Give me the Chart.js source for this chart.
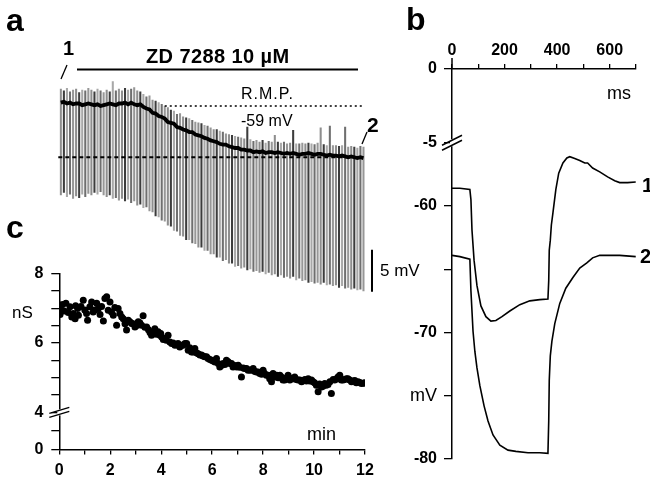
<!DOCTYPE html>
<html>
<head>
<meta charset="utf-8">
<script src="https://cdn.jsdelivr.net/npm/chart.js@4/dist/chart.umd.min.js"></script>
<style>
  body { margin: 0; background: #fff; }
  #fig { position: relative; width: 650px; height: 481px; overflow: hidden; background: #fff;
         font-family: "Liberation Sans", Arial, sans-serif; color: #000; }
  canvas { position: absolute; }
  .t { position: absolute; line-height: 1; white-space: nowrap; }
  .big { font-size: 32px; font-weight: bold; }
  svg { position: absolute; left: 0; top: 0; }
</style>
</head>
<body>
<div id="fig">
  <canvas id="traceA" width="390" height="330" style="left:0;top:0"></canvas>
  <canvas id="condC" width="385" height="231" style="left:0;top:250px"></canvas>
  <canvas id="stepB" width="255" height="461" style="left:395px;top:20px"></canvas>

  <div class="t big" style="left:6px;top:4px">a</div>
  <div class="t big" style="left:406px;top:3px">b</div>
  <div class="t big" style="left:6px;top:211px">c</div>

  <div class="t" style="left:63px;top:38px;font-size:20px;font-weight:bold">1</div>
  <div class="t" style="left:146px;top:46px;font-size:20px;font-weight:bold;letter-spacing:0.4px">ZD 7288 10 µM</div>
  <div class="t" style="left:241px;top:86px;font-size:16px;letter-spacing:1px">R.M.P.</div>
  <div class="t" style="left:241px;top:113px;font-size:16px">-59 mV</div>
  <div class="t" style="left:367px;top:114px;font-size:21px;font-weight:bold">2</div>
  <div class="t" style="left:380px;top:262px;font-size:17px">5 mV</div>

  <div class="t" style="left:607px;top:84px;font-size:18px">ms</div>
  <div class="t" style="left:642px;top:175px;font-size:20px;font-weight:bold">1</div>
  <div class="t" style="left:640px;top:246px;font-size:20px;font-weight:bold">2</div>

  <div class="t" style="left:12px;top:304px;font-size:17px">nS</div>
  <div class="t" style="left:307px;top:425px;font-size:18px">min</div>

  <svg width="650" height="481">
    <line x1="77" y1="69.5" x2="358" y2="69.5" stroke="#000" stroke-width="2"/>
    <line x1="61" y1="79" x2="67" y2="65" stroke="#000" stroke-width="1.3"/>
    <line x1="362" y1="144" x2="367" y2="132" stroke="#000" stroke-width="1.3"/>
  </svg>
</div>

<script>
// ---- panel a: membrane potential during ZD 7288 (one value per hyperpolarising pulse, mV)
const restMv = [
  -58.6, -58.5, -58.7, -58.6, -58.8, -58.7, -58.7, -58.9, -58.8, -58.7,
  -58.8, -58.9, -58.8, -59.0, -58.9, -58.8, -58.7, -58.8, -58.9, -58.7,
  -58.7, -58.6, -58.8, -58.6, -58.8, -58.9, -58.8, -59.1, -59.3, -59.4,
  -59.8, -59.9, -60.2, -60.3, -60.5, -60.9, -61.0, -61.1, -61.5, -61.6,
  -61.8, -61.9, -62.1, -62.1, -62.4, -62.5, -62.6, -62.8, -62.9, -63.1,
  -63.2, -63.3, -63.5, -63.6, -63.6, -63.8, -63.9, -64.0, -64.0, -64.2,
  -64.2, -64.3, -64.3, -64.5, -64.4, -64.5, -64.4, -64.6, -64.5, -64.5,
  -64.6, -64.5, -64.6, -64.7, -64.6, -64.7, -64.6, -64.7, -64.8, -64.7,
  -64.7, -64.6, -64.7, -64.8, -64.7, -64.7, -64.8, -64.9, -64.8, -64.9,
  -64.9, -65.0, -64.9, -65.0, -65.1, -65.0, -65.1, -65.2, -65.1, -65.2
];
const troughMv = [
  -69.6, -69.3, -69.8, -69.5, -70.0, -69.7, -69.9, -69.5, -69.8, -69.4,
  -69.6, -69.3, -69.5, -69.2, -69.6, -69.8, -69.6, -70.0, -69.9, -70.2,
  -70.0, -70.3, -70.1, -70.5, -70.3, -70.8, -70.7, -71.1, -71.0, -71.5,
  -71.6, -72.1, -72.2, -72.6, -72.7, -73.2, -73.3, -73.8, -73.9, -74.4,
  -74.5, -74.9, -74.9, -75.3, -75.4, -75.8, -75.8, -76.2, -76.2, -76.6,
  -76.6, -77.0, -77.0, -77.4, -77.3, -77.7, -77.7, -78.1, -78.0, -78.3,
  -78.2, -78.5, -78.4, -78.7, -78.6, -78.8, -78.7, -79.0, -78.8, -79.1,
  -79.0, -79.3, -79.1, -79.4, -79.3, -79.5, -79.3, -79.7, -79.5, -79.8,
  -79.7, -80.0, -79.9, -80.1, -80.0, -80.2, -80.0, -80.3, -80.2, -80.4,
  -80.3, -80.6, -80.4, -80.7, -80.6, -80.8, -80.7, -80.9, -80.8, -81.0
];
const peakMv = [
  -57.0, -57.2, -56.9, -57.3, -57.1, -57.0, -57.4, -57.1, -57.2, -56.9,
  -57.1, -57.3, -57.0, -57.2, -57.4, -57.1, -57.3, -56.1, -57.2, -57.0,
  -57.2, -56.9, -57.1, -57.0, -56.8, -57.2, -57.3, -57.6, -57.9, -57.8,
  -58.3, -58.4, -58.6, -58.8, -59.0, -59.2, -59.5, -59.6, -60.0, -59.9,
  -60.3, -60.4, -60.5, -60.7, -60.9, -61.0, -61.1, -61.3, -61.4, -61.6,
  -61.8, -61.8, -62.0, -62.1, -62.3, -62.4, -62.5, -62.6, -62.7, -62.8,
  -62.9, -61.5, -63.0, -63.2, -63.1, -63.3, -63.1, -63.4, -63.2, -63.3,
  -62.5, -63.3, -63.4, -63.3, -63.5, -63.4, -61.9, -63.5, -63.5, -63.4,
  -63.5, -63.4, -63.5, -63.6, -63.4, -61.6, -63.6, -63.7, -61.4, -63.7,
  -63.7, -63.8, -63.7, -61.5, -63.9, -63.8, -63.9, -64.0, -63.8, -63.9
];
const rmpMv = -59;          // dotted R.M.P. line
const rmpLateMv = -65.1;    // dashed line at the end potential
const rmpFromPulse = 34;
const scaleBarMv = 5;
const scaleBarTopMv = -76.1;

// ---- panel b: voltage responses to current steps (ms, mV)
const tr1Ms = [0, 30, 68, 72, 76, 84, 95, 110, 129, 148, 167, 190, 220, 258, 296, 334, 365, 368, 370, 374,
  378, 384, 395, 406, 422, 437, 448, 467, 486, 505, 516, 535, 562, 592, 619, 638, 668, 699];
const tr1Mv = [-58.6, -58.6, -58.7, -59.5, -61.9, -64.3, -66.3, -67.9, -68.75, -69.1, -69.05, -68.75, -68.3, -67.8,
  -67.5, -67.4, -67.35, -65.9, -63.5, -62.7, -61.5, -60.55, -58.7, -57.4, -56.6, -56.2, -56.1, -56.25, -56.4,
  -56.6, -56.6, -57.0, -57.3, -57.7, -58.0, -58.15, -58.15, -58.1];
const tr2Ms = [0, 30, 68, 72, 80, 87, 95, 106, 122, 137, 156, 182, 213, 243, 289, 334, 365, 368, 370, 374,
  380, 391, 410, 433, 460, 486, 513, 535, 562, 638, 699];
const tr2Mv = [-63.9, -64.0, -64.2, -66.7, -69.9, -71.5, -72.8, -74.2, -75.8, -77.0, -78.1, -78.9, -79.3, -79.4,
  -79.5, -79.5, -79.55, -77.0, -73.8, -71.85, -70.7, -69.3, -67.7, -66.5, -65.65, -64.9, -64.5, -64.1, -63.9,
  -63.9, -64.0];
const bBreakAt = -55;
const bZeroAt = -49.17;     // where "0 mV" sits above the axis break
const bTickValues = [-80, -75, -70, -65, -60, -55, bZeroAt];
const bTickText = ['-80', 'mV', '-70', '', '-60', '-5', '0'];

// ---- panel c: input conductance (min, nS)
const condMin = [0.03, 0.12, 0.26, 0.35, 0.42, 0.49, 0.62, 0.64, 0.72, 0.75,
  0.94, 1.07, 1.11, 1.20, 1.27, 1.33, 1.47, 1.53, 1.60, 1.73, 1.79, 1.86, 1.92, 1.99,
  2.05, 2.12, 2.25, 2.31, 2.38, 2.51, 2.64, 2.71, 2.84, 2.97,
  3.10, 3.23, 3.29, 3.43, 3.62, 3.75, 3.88, 3.95,
  4.02, 4.15, 4.27, 4.34, 4.41, 4.54, 4.73, 4.86, 4.93,
  5.00, 5.06, 5.19, 5.32, 5.45, 5.58, 5.71, 5.78, 5.84, 5.98,
  6.11, 6.17, 6.24, 6.30, 6.38, 6.43, 6.56, 6.63, 6.69, 6.82, 6.96,
  7.02, 7.15, 7.28, 7.35, 7.41, 7.55, 7.61, 7.74, 7.87,
  8.00, 8.13, 8.20, 8.26, 8.33, 8.39, 8.46, 8.53, 8.66, 8.72, 8.78, 8.85, 8.98,
  9.05, 9.18, 9.24, 9.37, 9.44, 9.51, 9.64, 9.83, 9.96,
  10.09, 10.16, 10.29, 10.35, 10.42, 10.55, 10.62, 10.68, 10.81, 10.94,
  11.01, 11.07, 11.14, 11.27, 11.33, 11.47, 11.66, 11.86, 11.99,
  0.08, 0.20, 0.55, 0.85, 1.00, 1.40, 1.66, 2.18, 2.45, 2.58,
  2.78, 2.90, 3.04, 3.16, 3.36, 3.50, 3.56, 3.70, 3.81, 3.98,
  4.08, 4.20, 4.47, 4.60, 4.66, 4.80, 5.12, 5.25, 5.38, 5.52,
  5.64, 5.91, 6.04, 6.50, 6.76, 6.89, 7.08, 7.22, 7.48, 7.68,
  7.80, 7.94, 8.06, 8.59, 8.92, 9.11, 9.30, 9.57, 9.70, 9.77,
  9.90, 10.02, 10.22, 10.48, 10.75, 10.88, 11.20, 11.40, 11.53, 11.60,
  11.73, 11.80, 11.93];
const condNs = [6.82, 7.11, 7.14, 6.88, 7.04, 6.75, 6.70, 7.07, 6.99, 6.80,
  7.23, 6.85, 6.65, 7.04, 7.18, 6.89, 7.14, 6.99, 6.82, 6.63, 7.28, 7.33, 6.94, 7.18,
  6.89, 6.80, 6.51, 6.99, 6.85, 6.70, 6.37, 6.65, 6.56, 6.46,
  6.61, 6.51, 6.78, 6.46, 6.22, 6.41, 6.32, 6.22,
  6.17, 6.13, 6.22, 6.03, 5.98, 5.93, 5.88, 5.93, 5.98,
  5.98, 5.79, 5.74, 5.84, 5.69, 5.65, 5.60, 5.60, 5.55, 5.50,
  5.45, 5.55, 5.41, 5.31, 5.36, 5.41, 5.50, 5.46, 5.41, 5.31, 5.31,
  5.36, 5.02, 5.26, 5.26, 5.21, 5.21, 5.26, 5.16, 5.12,
  5.21, 5.07, 5.07, 4.97, 4.88, 5.12, 5.02, 5.07, 5.07, 5.02, 4.93, 4.93, 5.07,
  4.93, 4.97, 5.02, 4.93, 4.93, 4.88, 4.95, 4.90, 4.88,
  4.78, 4.59, 4.73, 4.75, 4.83, 4.80, 4.88, 4.54, 4.93, 5.02,
  5.07, 4.93, 4.93, 4.97, 4.97, 4.88, 4.85, 4.83, 4.85,
  6.95, 6.92, 6.85, 7.05, 6.95, 6.95, 7.05, 7.02, 6.75, 6.55,
  6.60, 6.55, 6.50, 6.58, 6.45, 6.38, 6.30, 6.33, 6.25, 6.27,
  6.10, 6.08, 6.00, 5.95, 5.98, 5.93, 5.86, 5.74, 5.72, 5.65,
  5.62, 5.52, 5.48, 5.38, 5.41, 5.35, 5.30, 5.28, 5.22, 5.18,
  5.16, 5.10, 5.12, 5.00, 5.00, 4.98, 4.95, 4.92, 4.90, 4.97,
  4.93, 4.85, 4.82, 4.78, 4.95, 4.96, 4.95, 4.93, 4.90, 4.92,
  4.88, 4.86, 4.84];
const cBreakAt = 4;
const cZeroAt = 2.93;       // where "0 nS" sits below the axis break
const cTickValues = [cZeroAt, 3.465, 4, 4.5, 5, 5.5, 6, 6.5, 7, 7.5, 8];
const cTickText = ['0', '', '4', '', '', '', '6', '', '', '', '8'];

Chart.defaults.font.family = '"Liberation Sans", Arial, sans-serif';
Chart.defaults.color = '#000';
Chart.defaults.animation = false;

const noLegend = { legend: { display: false }, tooltip: { enabled: false } };
const tickFont = { size: 16, weight: 'bold' };
const pulseShades = ['#8e8e8e', '#3c3c3c', '#a8a8a8', '#6f6f6f', '#979797'];

// draws an axis break "//" across a vertical axis
const drawBreak = (ctx, x, y, halfW, rise, gap) => {
  ctx.save();
  ctx.fillStyle = '#fff';
  ctx.fillRect(x - 2, y - gap / 2 - 1, 4, gap + 2);
  ctx.strokeStyle = '#000';
  ctx.lineWidth = 1.4;
  [-gap / 2, gap / 2].forEach((d) => {
    ctx.beginPath();
    ctx.moveTo(x - halfW, y + d + rise / 2);
    ctx.lineTo(x + halfW, y + d - rise / 2);
    ctx.stroke();
  });
  ctx.restore();
};

const panelAExtras = {
  id: 'panelAExtras',
  afterDatasetsDraw(chart) {
    const { ctx, chartArea, scales: { x, y } } = chart;
    ctx.save();
    ctx.strokeStyle = '#000';
    // late resting potential, dashed
    ctx.lineWidth = 1.8;
    ctx.setLineDash([4, 3]);
    ctx.beginPath();
    ctx.moveTo(chartArea.left - 1, y.getPixelForValue(rmpLateMv));
    ctx.lineTo(chartArea.right - 3, y.getPixelForValue(rmpLateMv));
    ctx.stroke();
    // R.M.P., dotted
    ctx.lineWidth = 1.3;
    ctx.setLineDash([2, 3]);
    ctx.beginPath();
    ctx.moveTo(x.getPixelForValue(rmpFromPulse), y.getPixelForValue(rmpMv));
    ctx.lineTo(chartArea.right - 2, y.getPixelForValue(rmpMv));
    ctx.stroke();
    // 5 mV scale bar
    ctx.setLineDash([]);
    ctx.lineWidth = 2;
    const bx = chartArea.right + 7;
    ctx.beginPath();
    ctx.moveTo(bx, y.getPixelForValue(scaleBarTopMv));
    ctx.lineTo(bx, y.getPixelForValue(scaleBarTopMv - scaleBarMv));
    ctx.stroke();
    ctx.restore();
  }
};

const panelBExtras = {
  id: 'panelBExtras',
  afterDraw(chart) {
    const { ctx, chartArea, scales: { y } } = chart;
    ctx.save();
    ctx.strokeStyle = '#000';
    ctx.lineWidth = 1.5;
    ctx.beginPath();
    ctx.moveTo(chartArea.left, chartArea.top);
    ctx.lineTo(chartArea.left, chartArea.top - 11);
    ctx.stroke();
    ctx.restore();
    drawBreak(ctx, chartArea.left, y.getPixelForValue(bBreakAt), 10, 10, 5);
  }
};

const panelCExtras = {
  id: 'panelCExtras',
  afterDraw(chart) {
    const { ctx, chartArea, scales: { y } } = chart;
    drawBreak(ctx, chartArea.left, y.getPixelForValue(cBreakAt), 10, 6, 4);
  }
};

const renderPanelA = () => {
  new Chart(document.getElementById('traceA'), {
    type: 'bar',
    data: {
      labels: restMv.map((_, i) => i + 1),
      datasets: [
        { type: 'line', data: restMv, borderColor: '#000', borderWidth: 3.8, pointRadius: 0, order: 0 },
        {
          data: troughMv.map((v, i) => [v, peakMv[i]]),
          backgroundColor: (c) => pulseShades[c.dataIndex % pulseShades.length],
          barThickness: 1.4,
          order: 1
        }
      ]
    },
    options: {
      responsive: false,
      layout: { padding: { left: 59.3, right: 25, top: 72.4, bottom: 30.8 } },
      plugins: noLegend,
      scales: {
        x: { display: false },
        y: { display: false, min: -82, max: -55 }
      }
    },
    plugins: [panelAExtras]
  });
};

const renderPanelB = () => {
  const line = (ms, mv) => ({
    data: ms.map((t, i) => ({ x: t, y: mv[i] })),
    showLine: true, borderColor: '#000', borderWidth: 1.6, pointRadius: 0
  });
  new Chart(document.getElementById('stepB'), {
    type: 'scatter',
    data: { datasets: [line(tr1Ms, tr1Mv), line(tr2Ms, tr2Mv)] },
    options: {
      responsive: false,
      layout: { padding: { left: 0, right: 14, top: 0, bottom: 22 } },
      plugins: noLegend,
      scales: {
        x: {
          type: 'linear', position: 'top', min: 0, max: 700,
          ticks: { stepSize: 100, autoSkip: false, maxRotation: 0, padding: 4, font: tickFont,
                   callback: (v) => (v % 200 === 0 ? String(v) : '') },
          grid: { drawOnChartArea: false, tickLength: 5, color: '#000', lineWidth: 1.3 },
          border: { color: '#000', width: 1.5 },
          afterFit: (s) => { s.height = 49; }
        },
        y: {
          min: -80, max: bZeroAt,
          afterBuildTicks: (s) => { s.ticks = bTickValues.map((v) => ({ value: v })); },
          ticks: {
            autoSkip: false, padding: 7,
            font: (c) => (bTickText[c.index] === 'mV' ? { size: 18, weight: 'normal' } : tickFont),
            callback: (v, i) => bTickText[i]
          },
          grid: { drawOnChartArea: false, tickLength: 8, color: '#000', lineWidth: 1.3 },
          border: { color: '#000', width: 1.5 },
          afterFit: (s) => { s.width = 57; }
        }
      }
    },
    plugins: [panelBExtras]
  });
};

const renderPanelC = () => {
  new Chart(document.getElementById('condC'), {
    type: 'scatter',
    data: {
      datasets: [{
        data: condMin.map((t, i) => ({ x: t, y: condNs[i] })),
        pointRadius: 3.5, pointBackgroundColor: '#000', pointBorderWidth: 0
      }]
    },
    options: {
      responsive: false,
      layout: { padding: { left: 0, right: 20, top: 23.5, bottom: 0 } },
      plugins: noLegend,
      scales: {
        x: {
          type: 'linear', min: 0, max: 12,
          ticks: { stepSize: 1, autoSkip: false, maxRotation: 0, padding: 6, font: tickFont,
                   callback: (v) => (v % 2 === 0 ? String(v) : '') },
          grid: { drawOnChartArea: false, tickLength: 5, color: '#000', lineWidth: 1.3 },
          border: { color: '#000', width: 1.5 },
          afterFit: (s) => { s.height = 31.5; }
        },
        y: {
          min: cZeroAt, max: 8,
          afterBuildTicks: (s) => { s.ticks = cTickValues.map((v) => ({ value: v })); },
          ticks: { autoSkip: false, padding: 8, font: tickFont, callback: (v, i) => cTickText[i] },
          grid: { drawOnChartArea: false, tickLength: 8, color: '#000', lineWidth: 1.3 },
          border: { color: '#000', width: 1.5 },
          afterFit: (s) => { s.width = 59.3; }
        }
      }
    },
    plugins: [panelCExtras]
  });
};

document.addEventListener('DOMContentLoaded', () => {
  renderPanelA();
  renderPanelB();
  renderPanelC();
});
</script>
</body>
</html>
